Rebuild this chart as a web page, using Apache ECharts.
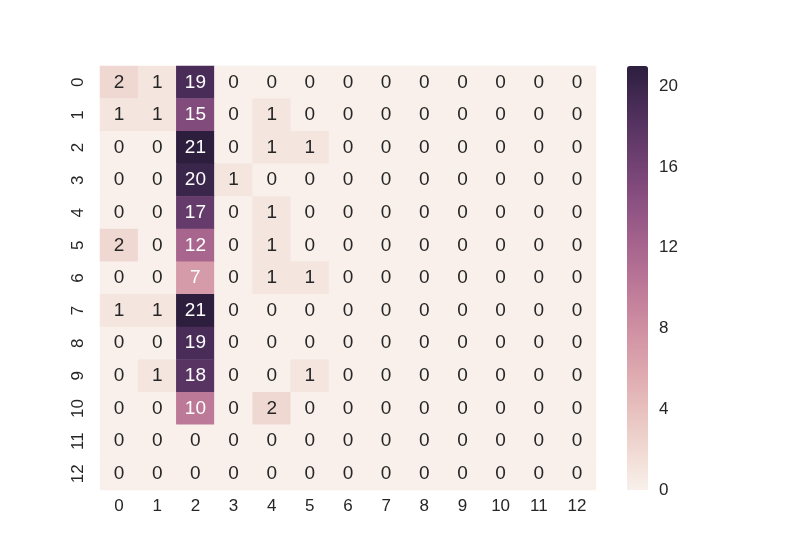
<!DOCTYPE html>
<html><head><meta charset="utf-8">
<script src="https://cdn.jsdelivr.net/npm/echarts@6/dist/echarts.min.js"></script>
<style>html,body{margin:0;padding:0;background:#fff}#c{width:800px;height:550px}</style>
</head><body><div id="c"></div>
<script>
const xLabels = ['0','1','2','3','4','5','6','7','8','9','10','11','12'];
const yLabels = ['0','1','2','3','4','5','6','7','8','9','10','11','12'];
const matrix = [
  [2,1,19,0,0,0,0,0,0,0,0,0,0],
  [1,1,15,0,1,0,0,0,0,0,0,0,0],
  [0,0,21,0,1,1,0,0,0,0,0,0,0],
  [0,0,20,1,0,0,0,0,0,0,0,0,0],
  [0,0,17,0,1,0,0,0,0,0,0,0,0],
  [2,0,12,0,1,0,0,0,0,0,0,0,0],
  [0,0,7,0,1,1,0,0,0,0,0,0,0],
  [1,1,21,0,0,0,0,0,0,0,0,0,0],
  [0,0,19,0,0,0,0,0,0,0,0,0,0],
  [0,1,18,0,0,1,0,0,0,0,0,0,0],
  [0,0,10,0,2,0,0,0,0,0,0,0,0],
  [0,0,0,0,0,0,0,0,0,0,0,0,0],
  [0,0,0,0,0,0,0,0,0,0,0,0,0]
];
const colorbarTicks = [0,4,8,12,16,20];
const vmin = 0, vmax = 21;

// seaborn cubehelix_palette(light=.95, dark=.15, start=0, rot=.4, hue=.8)
function cubehelix(x){
  const start=0, rot=0.4, gamma=1, hue=0.8;
  const xg = Math.pow(x, gamma);
  const a = hue*xg*(1-xg)/2;
  const phi = 2*Math.PI*(start/3 + rot*x);
  const f=(p0,p1)=>Math.max(0,Math.min(1,xg + a*(p0*Math.cos(phi)+p1*Math.sin(phi))));
  return [f(-0.14861,1.78277), f(-0.29227,-0.90649), f(1.97294,0)];
}
function toHex(c){return '#'+c.map(v=>Math.round(v*255).toString(16).padStart(2,'0')).join('');}
const stops=[];
for(let i=0;i<=40;i++){ const t=i/40; stops.push(toHex(cubehelix(0.95+(0.15-0.95)*t))); }
function lum(v){
  const t=(v-vmin)/(vmax-vmin);
  const c=cubehelix(0.95+(0.15-0.95)*t).map(u=>u<=0.03928?u/12.92:Math.pow((u+0.055)/1.055,2.4));
  return 0.2126*c[0]+0.7152*c[1]+0.0722*c[2];
}
const data=[];
matrix.forEach((row,yi)=>row.forEach((v,xi)=>{
  data.push({value:[xi,yi,v],label:{color: lum(v)>0.408?'#262626':'#ffffff'}});
}));

const chart = echarts.init(document.getElementById('c'));
const font = 'Liberation Sans, Arial, DejaVu Sans, sans-serif';
chart.setOption({
  backgroundColor:'#ffffff',
  animation:false,
  textStyle:{fontFamily:font},
  grid:[
    {left:100, top:66, width:496, height:424},
    {left:627, top:66, width:21, height:424}
  ],
  xAxis:[
    {type:'category', data:xLabels, gridIndex:0, position:'bottom',
     axisLine:{show:false}, axisTick:{show:false}, splitLine:{show:false},
     axisLabel:{fontSize:17, color:'#262626', margin:8, fontFamily:font}},
    {type:'value', gridIndex:1, show:false, min:0, max:1}
  ],
  yAxis:[
    {type:'category', data:yLabels, gridIndex:0, inverse:true,
     axisLine:{show:false}, axisTick:{show:false}, splitLine:{show:false},
     axisLabel:{fontSize:17, color:'#262626', rotate:90, margin:13, fontFamily:font}},
    {type:'value', gridIndex:1, position:'right', min:vmin, max:vmax,
     axisLine:{show:false}, axisTick:{show:false}, splitLine:{show:false},
     axisLabel:{fontSize:17, color:'#262626', margin:11, fontFamily:font,
       customValues: colorbarTicks}}
  ],
  visualMap:{
    type:'continuous', min:vmin, max:vmax, calculable:false, show:true,
    orient:'vertical', left:627, top:66, itemWidth:21, itemHeight:424,
    padding:0, text:null, showLabel:false, seriesIndex:0,
    inRange:{color:stops}
  },
  series:[{
    type:'heatmap', xAxisIndex:0, yAxisIndex:0, data:data,
    label:{show:true, fontSize:19, fontFamily:font, formatter:p=>String(p.value[2])},
    itemStyle:{borderWidth:0},
    emphasis:{disabled:true}
  }]
});
</script></body></html>
